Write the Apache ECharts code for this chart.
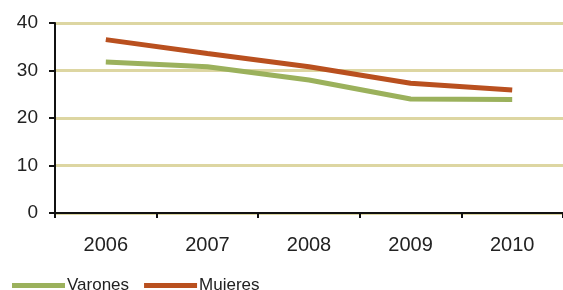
<!DOCTYPE html>
<html><head><meta charset="utf-8">
<script src="https://cdn.jsdelivr.net/npm/echarts@6/dist/echarts.min.js"></script>
<style>html,body{margin:0;padding:0;background:#fff}#c{width:563px;height:290px}</style>
</head><body><div id="c"></div>
<script>
var categories = ['2006', '2007', '2008', '2009', '2010'];
var varones = [31.8, 30.8, 28.0, 24.0, 23.9];
var mujeres = [36.5, 33.6, 30.8, 27.3, 25.9];
var yTicks = [0, 10, 20, 30, 40];

var chart = echarts.init(document.getElementById('c'), null, {renderer: 'canvas'});
chart.setOption({
  animation: false,
  backgroundColor: '#fff',
  grid: {left: 55, top: 23, width: 510, bottom: 77, containLabel: false},
  xAxis: {
    type: 'category', data: categories, boundaryGap: true,
    axisLine: {lineStyle: {color: '#111', width: 2}},
    axisTick: {show: true, length: 5, lineStyle: {color: '#111', width: 2}},
    axisLabel: {color: '#222', fontFamily: 'Liberation Sans, Arial', fontSize: 20, margin: 22},
    splitLine: {show: false}
  },
  yAxis: {
    type: 'value', min: yTicks[0], max: yTicks[yTicks.length - 1], interval: 10,
    axisLine: {show: true, lineStyle: {color: '#111', width: 2}},
    axisTick: {show: true, length: 6, lineStyle: {color: '#111', width: 2}},
    axisLabel: {color: '#222', fontFamily: 'Liberation Sans, Arial', fontSize: 19, margin: 17},
    splitLine: {show: true, lineStyle: {color: '#DDD6A2', width: 3}}
  },
  legend: {
    left: 12, top: 277, padding: 0, itemWidth: 53, itemHeight: 5, itemGap: 15, icon: 'rect',
    textStyle: {color: '#222', fontFamily: 'Liberation Sans, Arial', fontSize: 17, padding: [0, 0, 0, -3]},
    data: [
      {name: 'Varones', itemStyle: {color: '#9BB15C'}},
      {name: 'Mujeres', itemStyle: {color: '#B9501F'}}
    ]
  },
  series: [
    {name: 'Varones', type: 'line', data: varones, showSymbol: false, symbol: 'none',
     lineStyle: {color: '#9BB15C', width: 5}, itemStyle: {color: '#9BB15C'}},
    {name: 'Mujeres', type: 'line', data: mujeres, showSymbol: false, symbol: 'none',
     lineStyle: {color: '#B9501F', width: 5}, itemStyle: {color: '#B9501F'}}
  ]
});
</script></body></html>
